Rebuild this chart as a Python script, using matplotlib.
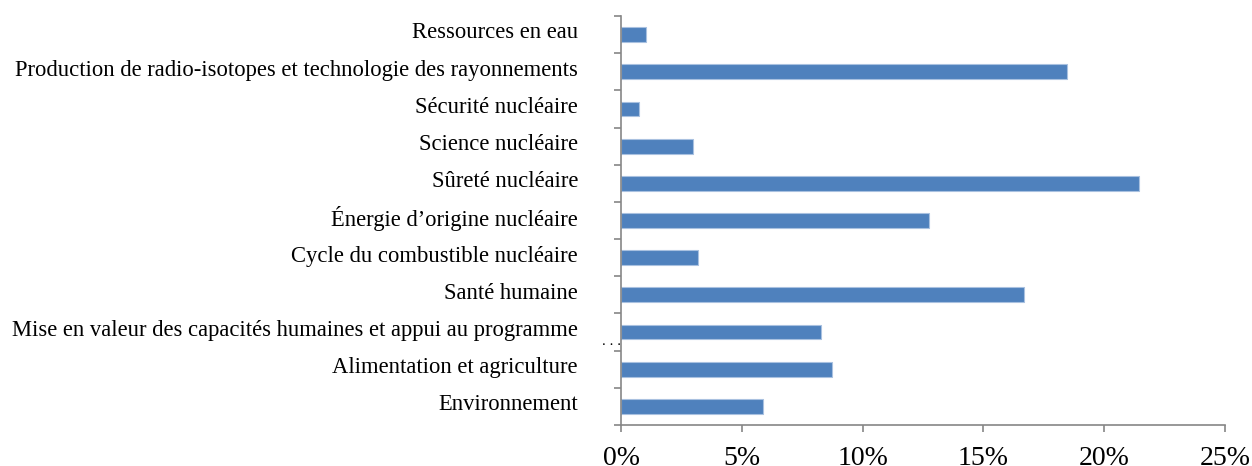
import numpy as np
import matplotlib
matplotlib.use("Agg")
import matplotlib.pyplot as plt
from matplotlib.ticker import FixedLocator, FuncFormatter
from matplotlib.transforms import ScaledTranslation

# categories listed bottom -> top
categories = [
    "Environnement",
    "Alimentation et agriculture",
    "Mise en valeur des capacités humaines et appui au programme",
    "Santé humaine",
    "Cycle du combustible nucléaire",
    "Énergie d\u2019origine nucléaire",
    "Sûreté nucléaire",
    "Science nucléaire",
    "Sécurité nucléaire",
    "Production de radio-isotopes et technologie des rayonnements",
    "Ressources en eau",
]
shares = [5.86, 8.74, 8.29, 16.66, 3.18, 12.74, 21.44, 2.97, 0.75, 18.47, 1.05]
xticks = [0, 5, 10, 15, 20, 25]

plt.rcParams['font.family'] = ['Liberation Serif', 'DejaVu Serif']

fig = plt.figure(figsize=(12.52, 4.66), dpi=100)
ax = fig.add_axes([621 / 1252, 1 - 425 / 466, (1225 - 621) / 1252, (425 - 16) / 466])

y = np.arange(len(categories))
ax.barh(y, shares, height=0.4, color="#4F81BD", edgecolor="#A9C1E0", linewidth=0.8)

ax.set_xlim(0, 25)
ax.set_ylim(-0.5, len(categories) - 0.5)

axis_col = "#868686"
for side in ["top", "right"]:
    ax.spines[side].set_visible(False)
for side in ["left", "bottom"]:
    ax.spines[side].set_color(axis_col)
    ax.spines[side].set_linewidth(1.2)

ax.xaxis.set_major_locator(FixedLocator(xticks))
ax.xaxis.set_major_formatter(FuncFormatter(lambda v, p: "%d%%" % v))
ax.tick_params(axis="x", direction="out", length=5, width=1.2, color=axis_col,
               labelsize=20, pad=10)

ax.set_yticks(y)
ax.set_yticklabels(categories)
ax.yaxis.set_minor_locator(FixedLocator(np.arange(-0.5, len(categories), 1.0)))
ax.tick_params(axis="y", which="major", length=0, labelsize=16.3, pad=31)
ax.tick_params(axis="y", which="minor", direction="out", length=5, width=1.2, color=axis_col)

# labels sit a little above the bar centres
for lab in ax.get_yticklabels():
    lab.set_transform(lab.get_transform() + ScaledTranslation(0, 3 / 72, fig.dpi_scale_trans))

ax.text(0, 2 - 0.25, ". . .", transform=ax.get_yaxis_transform(), ha="right", va="center",
        fontsize=11)

fig.savefig("out.png", dpi=100)
